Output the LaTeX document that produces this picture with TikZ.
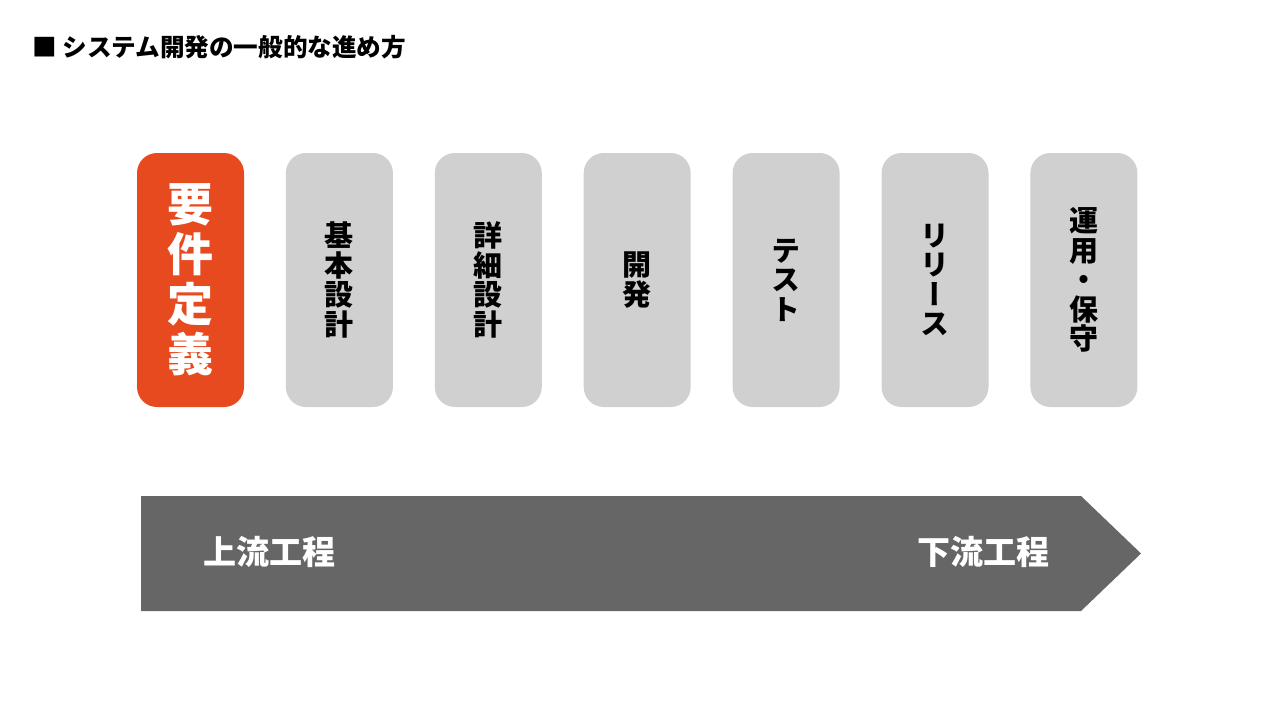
\documentclass[tikz,border=0pt]{standalone}
\usepackage{fontspec}
\usepackage{tikz}
\usetikzlibrary{positioning}
\newfontfamily\jp{Noto Sans CJK JP}
\newfontfamily\jpv{Noto Sans CJK JP}[RawFeature=+vert]
\definecolor{reqorange}{HTML}{E84A1F}
\definecolor{stagegrey}{HTML}{D0D0D0}
\definecolor{flowgrey}{HTML}{666666}

\begin{document}
\begin{tikzpicture}[
    x=1pt, y=-1pt,
    node distance=41.5pt,
    every node/.style={inner sep=0pt},
    stage/.style={rectangle, rounded corners=20pt, minimum width=107pt, minimum height=254pt, text centered, align=center, fill=stagegrey, font=\jpv\bfseries\fontsize{29}{29.5}\selectfont},
    flowlabel/.style={text=white, font=\jp\bfseries\fontsize{33}{33}\selectfont}
]
\useasboundingbox (0,0) rectangle (1280,720);

\node[anchor=west, font=\jp\bfseries\fontsize{24.6}{24.6}\selectfont] (title) at (32,47) {■ システム開発の一般的な進め方};

\node[stage, fill=reqorange, text=white, font=\jpv\bfseries\fontsize{46}{50}\selectfont] (req) at (190.5,280) {要\\件\\定\\義};
\node[stage, right=of req] (basic) {基\\本\\設\\計};
\node[stage, right=of basic] (detail) {詳\\細\\設\\計};
\node[stage, right=of detail] (dev) {開\\発};
\node[stage, right=of dev] (test) {テ\\ス\\ト};
\node[stage, right=of test] (release) {リ\\リ\\ー\\ス};
\node[stage, right=of release] (ops) {運\\用\\・\\保\\守};

% flow arrow
\coordinate (flowtl) at (141,496);
\coordinate (flowbl) at (141,611);
\coordinate (flowtip) at (1141,553.5);
\fill[flowgrey] (flowtl) -- (1081,496) -- (flowtip) -- (1081,611) -- (flowbl) -- cycle;
\node[flowlabel] (upstream) at (269.5,552) {上流工程};
\node[flowlabel] (downstream) at (983,552) {下流工程};
\end{tikzpicture}
\end{document}
